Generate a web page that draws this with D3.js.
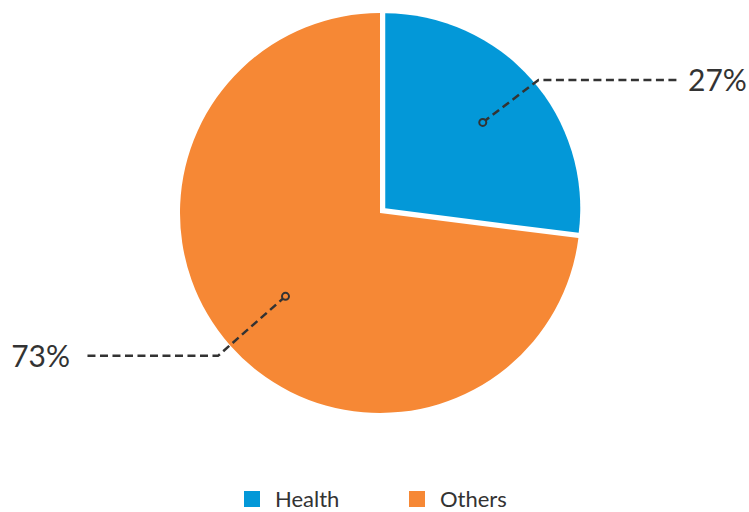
<!DOCTYPE html>
<html><head><meta charset="utf-8">
<script src="https://cdn.jsdelivr.net/npm/d3@7"></script>
<style>body{margin:0;background:#fff}svg{display:block}text{font-family:"Lato","Open Sans",sans-serif}</style>
</head><body><div id="chart"></div>
<script>
const categories = ["Health", "Others"];
const values = [27, 73];
const valueLabels = ["27%", "73%"];
const colors = ["#0398d8", "#f68835"];

const W = 749, H = 512;
const cx = 380, cy = 213;
const svg = d3.select("#chart").append("svg").attr("width", W).attr("height", H);

const pie = d3.pie().sort(null).value(d => d)(values);
const explode = [7, 0];
const radii = [195, 200];
const elbowR = [200, 216];
const elbowShift = [0.025, 0];
const dotR = [130, 126];
const lineEndX = [677, 87];

const g = svg.append("g").attr("transform", `translate(${cx},${cy})`);

pie.forEach((p, i) => {
  const mid = (p.startAngle + p.endAngle) / 2;
  const ux = Math.sin(mid), uy = -Math.cos(mid);
  const ox = ux * explode[i], oy = uy * explode[i];
  const sg = g.append("g").attr("transform", `translate(${ox},${oy})`);
  sg.append("path")
    .attr("d", d3.arc().innerRadius(0).outerRadius(radii[i])(p))
    .attr("fill", colors[i]);
  const dx = ux * dotR[i], dy = uy * dotR[i];
  const ea = mid + elbowShift[i];
  const ex = Math.sin(ea) * elbowR[i], ey = -Math.cos(ea) * elbowR[i];
  const endX = lineEndX[i] - cx - ox;
  sg.append("path")
    .attr("d", `M${dx},${dy}L${ex},${ey}L${endX},${ey}`)
    .attr("fill", "none").attr("stroke", "#333").attr("stroke-width", 2.5)
    .attr("stroke-dasharray", "8,4.5");
  sg.append("circle").attr("cx", dx).attr("cy", dy).attr("r", 3.5)
    .attr("fill", colors[i]).attr("stroke", "#333").attr("stroke-width", 2);
  const right = ux > 0;
  sg.append("text")
    .attr("x", endX + (right ? 11 : -17))
    .attr("y", ey + 11)
    .attr("text-anchor", right ? "start" : "end")
    .attr("font-size", 30).attr("fill", "#333")
    .text(valueLabels[i]);
});

const legendX = [244, 409];
const leg = svg.append("g");
categories.forEach((c, i) => {
  leg.append("rect").attr("x", legendX[i]).attr("y", 491).attr("width", 16).attr("height", 16).attr("fill", colors[i]);
  leg.append("text").attr("x", legendX[i] + 31).attr("y", 507).attr("font-size", 22).attr("fill", "#333").text(c);
});
</script></body></html>
